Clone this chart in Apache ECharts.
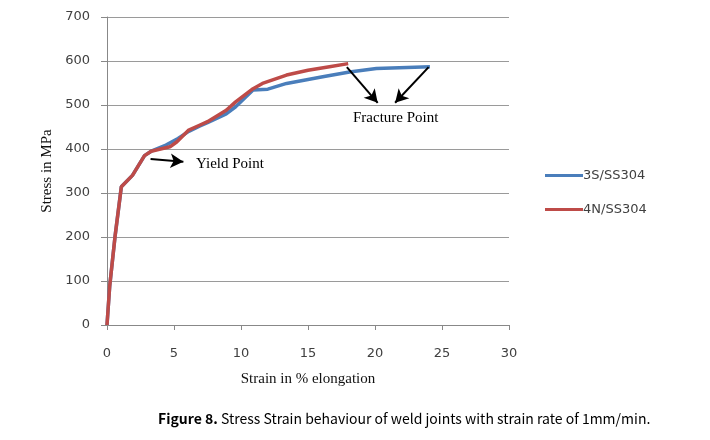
<!DOCTYPE html>
<html>
<head>
<meta charset="utf-8">
<script src="https://cdn.jsdelivr.net/npm/echarts@6/dist/echarts.min.js"></script>
<style>html,body{margin:0;padding:0;background:#fff}#c{width:710px;height:440px}</style>
</head>
<body>
<div id="c"></div>
<script>
// Data
const strain3S = [0, 0.2, 0.6, 1.07, 1.9, 2.8, 3.3, 4.4, 5.3, 6.1, 6.9, 7.5, 8.9, 9.6, 10.9, 12.0, 13.4, 16.1, 18.1, 20.1, 24.1];
const stress3S = [0, 88, 201, 314, 340, 385, 395, 409, 424, 440, 452, 460, 480, 496, 534, 536, 549, 564, 575, 583, 587];
const strain4N = [0, 0.2, 0.6, 1.07, 1.9, 2.8, 3.3, 4.7, 5.2, 6.1, 6.9, 7.5, 8.9, 9.6, 10.9, 11.6, 13.4, 15.0, 16.6, 18.0];
const stress4N = [0, 88, 201, 314, 340, 385, 395, 405, 416, 443, 454, 462, 488, 507, 537, 549, 568, 579, 587, 594];
const seriesNames = ['3S/SS304', '4N/SS304'];
const xTicks = [0, 5, 10, 15, 20, 25, 30];
const yTicks = [0, 100, 200, 300, 400, 500, 600, 700];

const pairs = (xs, ys) => xs.map((x, i) => [x, ys[i]]);
const chart = echarts.init(document.getElementById('c'), null, {renderer: 'canvas'});
const tickFont = {fontFamily: 'DejaVu Sans', fontSize: 13, color: '#404040'};
const arrowStyle = {color: '#000', width: 2, type: 'solid'};

chart.setOption({
  animation: false,
  backgroundColor: '#fff',
  grid: {left: 107, right: 201, top: 17, bottom: 115},
  xAxis: {
    type: 'value', min: xTicks[0], max: xTicks[xTicks.length - 1], interval: 5,
    name: 'Strain in % elongation', nameLocation: 'middle', nameGap: 47,
    nameTextStyle: {fontFamily: 'Liberation Serif', fontSize: 15, color: '#111'},
    axisLine: {show: true, lineStyle: {color: '#888', width: 1}},
    axisTick: {show: true, length: 5, lineStyle: {color: '#888'}},
    axisLabel: Object.assign({margin: 22}, tickFont),
    splitLine: {show: false}
  },
  yAxis: {
    type: 'value', min: yTicks[0], max: yTicks[yTicks.length - 1], interval: 100,
    name: 'Stress in MPa', nameLocation: 'middle', nameGap: 52,
    nameTextStyle: {fontFamily: 'Liberation Serif', fontSize: 15, color: '#111'},
    axisLine: {show: true, lineStyle: {color: '#888', width: 1}},
    axisTick: {show: true, length: 6, lineStyle: {color: '#888'}},
    axisLabel: Object.assign({margin: 17}, tickFont),
    splitLine: {show: true, lineStyle: {color: '#9a9a9a', width: 1}}
  },
  legend: {
    orient: 'vertical', left: 540, top: 164, itemGap: 21,
    itemWidth: 38, itemHeight: 3, icon: 'rect',
    textStyle: {fontFamily: 'DejaVu Sans', fontSize: 13, color: '#404040', padding: [0, 0, 0, -5]},
    data: seriesNames
  },
  series: [
    {
      name: seriesNames[0], type: 'line', data: pairs(strain3S, stress3S),
      showSymbol: false, symbol: 'none', z: 2,
      lineStyle: {color: '#4a7ebb', width: 3.5}, itemStyle: {color: '#4a7ebb'},
      markLine: {
        silent: true, symbol: ['none', 'arrow'], symbolSize: [11, 13],
        lineStyle: arrowStyle, label: {show: false},
        data: [
          [{coord: [17.9, 586]}, {coord: [20.2, 505]}],
          [{coord: [24.0, 586]}, {coord: [21.5, 505]}],
          [{coord: [3.25, 377]}, {coord: [5.7, 371]}]
        ]
      }
    },
    {
      name: seriesNames[1], type: 'line', data: pairs(strain4N, stress4N),
      showSymbol: false, symbol: 'none', z: 3,
      lineStyle: {color: '#be4b48', width: 3.5}, itemStyle: {color: '#be4b48'}
    }
  ],
  graphic: [
    {type: 'text', left: 353, top: 111, style: {text: 'Fracture Point', font: '15px "Liberation Serif"', fill: '#000'}},
    {type: 'text', left: 196, top: 157, style: {text: 'Yield Point', font: '15px "Liberation Serif"', fill: '#000'}},
    {type: 'text', left: 158, top: 412, style: {
      text: '{b|Figure 8.} Stress Strain behaviour of weld joints with strain rate of 1mm/min.',
      rich: {b: {fontFamily: 'Noto Sans CJK JP', fontWeight: 'bold', fontSize: 14, fill: '#000'}},
      font: '14px "Noto Sans CJK JP"', fill: '#000'
    }}
  ]
});
</script>
</body>
</html>
